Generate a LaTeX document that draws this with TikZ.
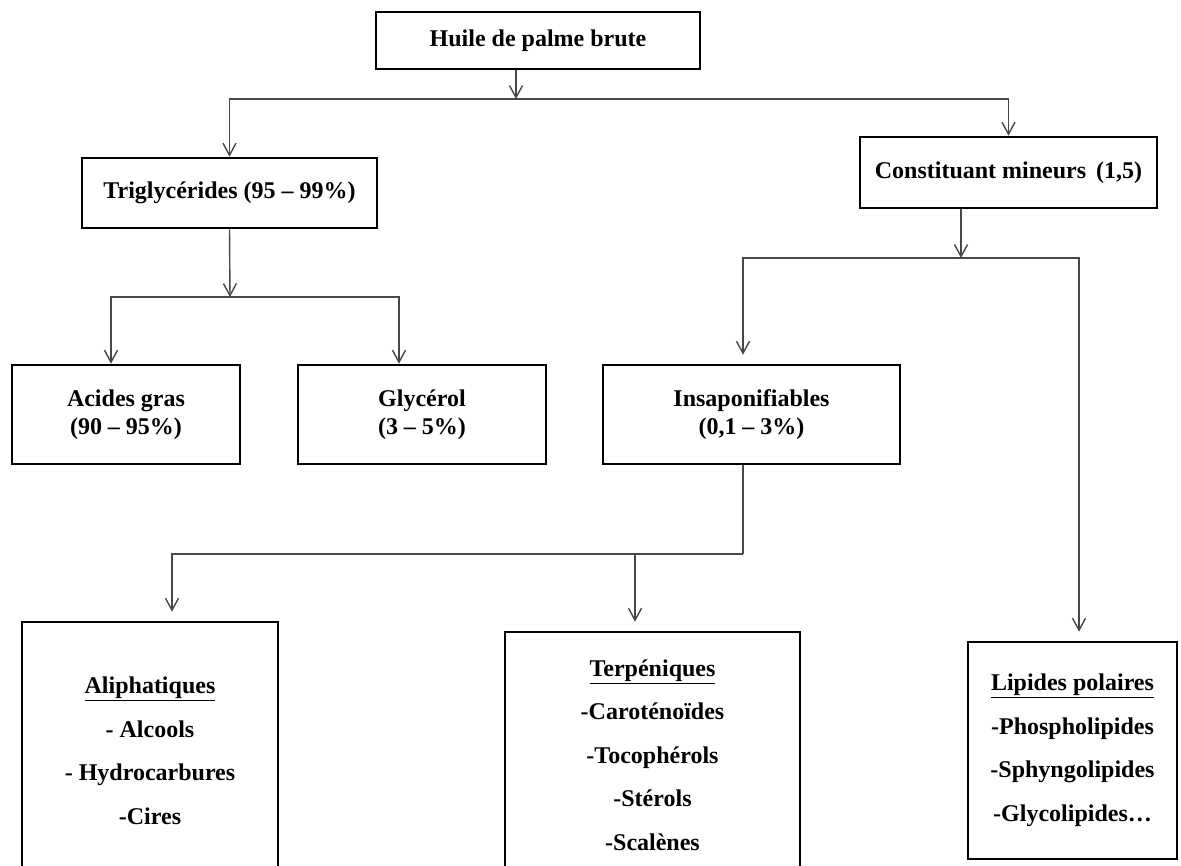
\documentclass[tikz,border=0pt]{standalone}
\usepackage{fontspec}
\setmainfont{Liberation Serif}
\usetikzlibrary{arrows.meta}
\begin{document}
\begin{tikzpicture}[x=1pt,y=-1pt,
  box/.style={draw=black, line width=2.6pt, fill=white, inner sep=0pt, align=center,
    font=\bfseries\fontsize{24}{28}\selectfont},
  listbox/.style={box, font=\bfseries\fontsize{24}{43.5}\selectfont},
  conn/.style={draw=black!72, line width=1.4pt},
  arr/.style={conn, -{Straight Barb[length=12pt,width=13pt,line width=1.4pt]}}]
\useasboundingbox (0,0) rectangle (1181,865);
\clip (0,0) rectangle (1181,865);

% boxes
\node[box, minimum width=324pt, minimum height=57pt] (huile) at (538,40.5) {Huile de palme brute};
\node[box, minimum width=295pt, minimum height=70pt] (trig) at (229.5,193) {Triglycérides (95 – 99\%)};
\node[box, minimum width=297pt, minimum height=71pt] (cons) at (1008.5,172.5) {Constituant mineurs\hspace{4pt} (1,5)};
\node[box, minimum width=228pt, minimum height=99pt] (acides) at (126,414.5) {Acides gras\\(90 – 95\%)};
\node[box, minimum width=248pt, minimum height=99pt] (glyc) at (422,414.5) {Glycérol\\(3 – 5\%)};
\node[box, minimum width=297pt, minimum height=99pt] (insap) at (751.5,414.5) {Insaponifiables\\(0,1 – 3\%)};
\node[listbox, minimum width=256pt, minimum height=258pt] (aliph) at (150,751)
  {\underline{Aliphatiques}\\- Alcools\\- Hydrocarbures\\-Cires};
\node[listbox, minimum width=295pt, minimum height=246pt] (terp) at (652.5,755)
  {\underline{Terpéniques}\\-Caroténoïdes\\-Tocophérols\\-Stérols\\-Scalènes};
\node[listbox, minimum width=209pt, minimum height=217pt] (lip) at (1072.5,750.5)
  {\underline{Lipides polaires}\\-Phospholipides\\-Sphyngolipides\\-Glycolipides…};

% junction coordinates
\coordinate (h1) at (516,99);
\coordinate (t1) at (230,297);
\coordinate (xa) at (111,0);
\coordinate (xg) at (399,0);
\coordinate (c1) at (961,258);
\coordinate (xi) at (743,0);
\coordinate (xl) at (1079,0);
\coordinate (i1) at (743,554);
\coordinate (xal) at (172,0);
\coordinate (xte) at (635,0);

% connectors
\draw[arr] (h1 |- huile.south) -- (h1);
\draw[arr] (h1) -| (trig.north);
\draw[arr] (h1) -| (cons.north);

\draw[arr] (trig.south) -- (t1);
\draw[arr] (t1) -| (xa |- acides.north);
\draw[arr] (t1) -| (xg |- glyc.north);

\draw[arr] (c1 |- cons.south) -- (c1);
\draw[arr, shorten >=9pt] (c1) -| (xi |- insap.north);
\draw[arr, shorten >=9pt] (c1) -| (xl |- lip.north);

\draw[conn] (xi |- insap.south) -- (i1);
\draw[arr, shorten >=9pt] (i1) -| (xal |- aliph.north);
\draw[arr, shorten >=9pt] (i1) -| (xte |- terp.north);
\end{tikzpicture}
\end{document}
